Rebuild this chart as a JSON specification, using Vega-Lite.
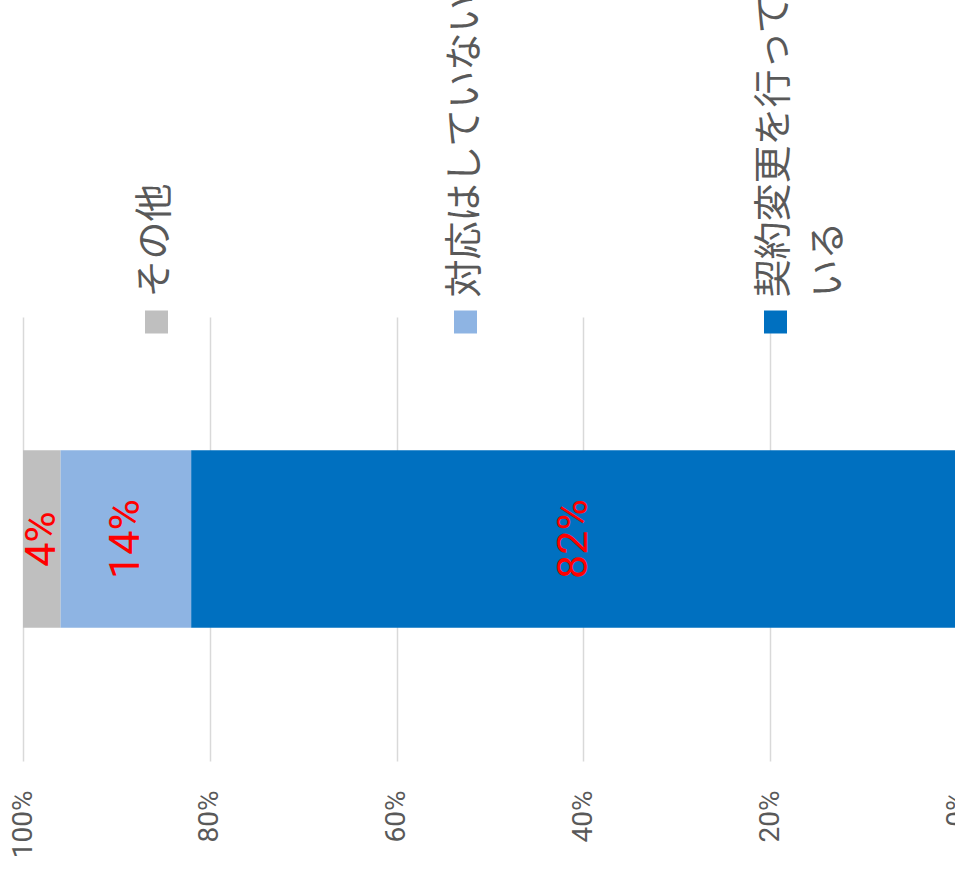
{
  "$schema": "https://vega.github.io/schema/vega-lite/v6.json",
  "width": 934,
  "height": 444,
  "autosize": {"type": "none"},
  "padding": {"left": 23, "top": 317, "right": -2, "bottom": 109},
  "background": "white",
  "config": {"view": {"stroke": null}},
  "data": {
    "values": [
      {"group": "回答", "category": "契約変更を行っている", "value": 0.82},
      {"group": "回答", "category": "対応はしていない", "value": 0.14},
      {"group": "回答", "category": "その他", "value": 0.04}
    ]
  },
  "layer": [
    {
      "layer": [
        {
          "mark": {"type": "bar"},
          "encoding": {
            "x": {
              "field": "value",
              "type": "quantitative",
              "stack": "zero",
              "scale": {"domain": [0, 1], "reverse": true, "nice": false},
              "axis": {
                "orient": "bottom",
                "values": [0, 0.2, 0.4, 0.6, 0.8, 1],
                "format": ".0%",
                "grid": true,
                "gridColor": "#d9d9d9",
                "gridWidth": 1.5,
                "domain": false,
                "ticks": false,
                "tickSize": 0,
                "labelAngle": 270,
                "labelAlign": "right",
                "labelBaseline": "middle",
                "labelPadding": 29,
                "labelFont": "Roboto",
                "labelFontSize": 28,
                "labelColor": "#595959",
                "labelFlush": false,
                "labelOverlap": false,
                "labelBound": false,
                "title": null
              }
            },
            "y": {
              "field": "group",
              "type": "nominal",
              "scale": {"paddingInner": 0.6, "paddingOuter": 0.3},
              "axis": null
            },
            "color": {
              "field": "category",
              "type": "nominal",
              "scale": {
                "domain": ["その他", "対応はしていない", "契約変更を行っている"],
                "range": ["#bfbfbf", "#8eb4e3", "#0070c0"]
              },
              "legend": null
            },
            "order": {"field": "value", "sort": "descending"}
          }
        },
        {
          "mark": {
            "type": "text",
            "angle": 270,
            "align": "center",
            "baseline": "middle",
            "font": "Roboto",
            "fontSize": 43,
            "color": "#ff0000"
          },
          "encoding": {
            "x": {"field": "value", "type": "quantitative", "stack": "zero", "bandPosition": 0.5},
            "y": {"field": "group", "type": "nominal"},
            "detail": {"field": "category", "type": "nominal"},
            "text": {"field": "value", "type": "quantitative", "format": ".0%"},
            "order": {"field": "value", "sort": "descending"}
          }
        }
      ]
    },
    {
      "mark": {"type": "point", "opacity": 0},
      "encoding": {
        "x": {
          "field": "category",
          "type": "nominal",
          "scale": {
            "type": "point",
            "domain": ["その他", "対応はしていない", "契約変更を行っている"],
            "range": [132.5, 751.5],
            "padding": 0
          },
          "axis": {
            "orient": "top",
            "offset": -16,
            "domain": false,
            "grid": false,
            "ticks": true,
            "tickSize": 23,
            "tickWidth": 23,
            "tickCap": "butt",
            "tickColor": {
              "condition": [
                {"test": "datum.value === 'その他'", "value": "#bfbfbf"},
                {"test": "datum.value === '対応はしていない'", "value": "#8eb4e3"}
              ],
              "value": "#0070c0"
            },
            "labelAngle": 270,
            "labelAlign": "left",
            "labelBaseline": "middle",
            "labelPadding": 13,
            "labelFont": "Noto Sans CJK JP",
            "labelFontSize": 38,
            "labelColor": "#595959",
            "labelLineHeight": 54,
            "labelLimit": 0,
            "labelOverlap": false,
            "labelBound": false,
            "labelExpr": "datum.label === '契約変更を行っている' ? ['契約変更を行って', 'いる'] : datum.label",
            "title": null
          }
        }
      }
    }
  ],
  "resolve": {"scale": {"x": "independent"}, "axis": {"x": "independent"}}
}
